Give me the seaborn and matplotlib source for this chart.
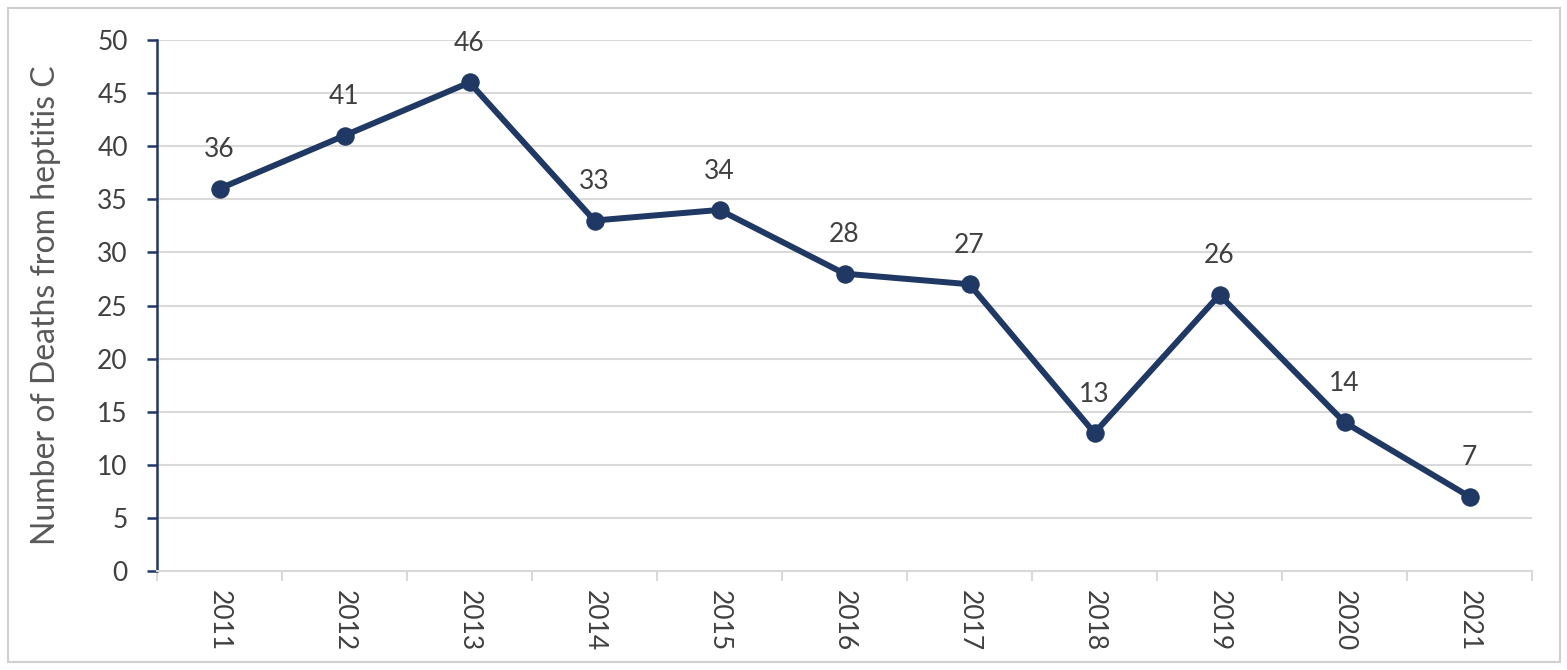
import matplotlib
matplotlib.use("Agg")
import matplotlib.pyplot as plt
import matplotlib.patches as mpatches
from matplotlib.ticker import FixedLocator, MultipleLocator
import seaborn as sns
import pandas as pd

years = ["2011", "2012", "2013", "2014", "2015", "2016", "2017", "2018", "2019", "2020", "2021"]
deaths = [36, 41, 46, 33, 34, 28, 27, 13, 26, 14, 7]

sns.set_theme(style="white")
plt.rcParams['font.family'] = ['Lato', 'DejaVu Sans']

navy = "#1f3864"
text_col = "#404040"

df = pd.DataFrame({"year": years, "deaths": deaths})

fig = plt.figure(figsize=(15.67, 6.70), dpi=100)
ax = fig.add_axes([157/1567, 1-571/670, (1532-157)/1567, (571-40)/670])

sns.lineplot(data=df, x="year", y="deaths", ax=ax, color=navy, linewidth=4.3,
             marker="o", markersize=12.5, markeredgecolor=navy, markerfacecolor=navy,
             sort=False, zorder=3)

ax.set_xlim(-0.5, len(years) - 0.5)
ax.set_ylim(0, 50)
ax.yaxis.set_major_locator(MultipleLocator(5))
ax.grid(axis="y", color="#d9d9d9", linewidth=1.5, zorder=0)
ax.grid(axis="x", visible=False)

for i, v in enumerate(deaths):
    ax.annotate(str(v), (i, v), xytext=(0, 28), textcoords="offset points",
                ha="center", va="center", fontsize=19, color=text_col)

ax.set_xticks(range(len(years)))
ax.set_xticklabels(years, rotation=270, fontsize=19, color=text_col)
ax.xaxis.set_minor_locator(FixedLocator([i - 0.5 for i in range(len(years) + 1)]))
ax.tick_params(axis="x", which="major", length=0, pad=14)
ax.tick_params(axis="x", which="minor", length=7, width=1.5, color="#d9d9d9", direction="out", bottom=True)
ax.tick_params(axis="y", which="major", length=7, width=1.8, color=navy, direction="out", left=True,
               labelsize=19, labelcolor=text_col, pad=14)

ax.set_xlabel("")
ax.set_ylabel("Number of Deaths from heptitis C", fontsize=23, color="#595959", labelpad=26)

for s in ["top", "right"]:
    ax.spines[s].set_visible(False)
ax.spines["left"].set_color(navy)
ax.spines["left"].set_linewidth(1.8)
ax.spines["bottom"].set_color("#d9d9d9")
ax.spines["bottom"].set_linewidth(1.5)

border = mpatches.Rectangle((8/1567, 8/670), (1560-8)/1567, (662-8)/670, transform=fig.transFigure,
                            fill=False, edgecolor="#d0d0d0", linewidth=1.5)
fig.patches.append(border)

fig.savefig("out.png", dpi=100)
